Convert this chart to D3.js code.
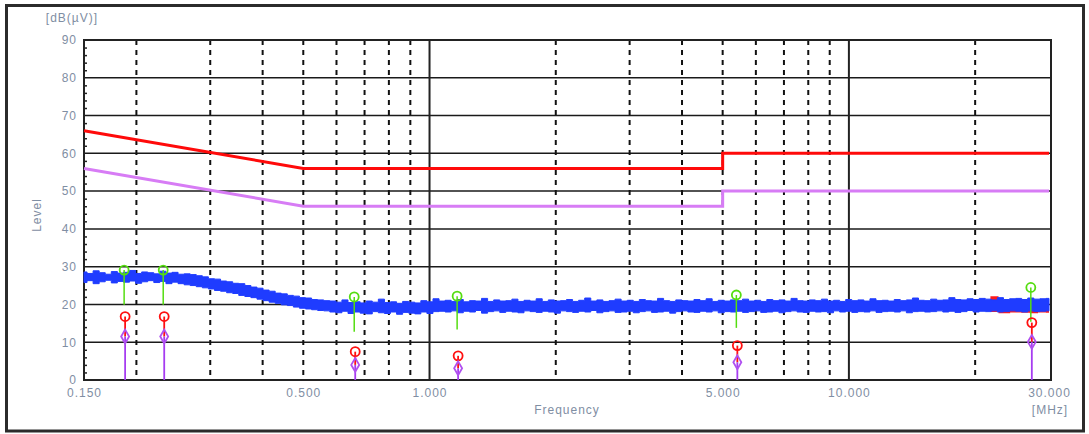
<!DOCTYPE html>
<html>
<head>
<meta charset="utf-8">
<script src="https://cdn.jsdelivr.net/npm/d3@7"></script>
<style>
  body { margin: 0; background: #fff; }
  .tick text, .lbl { font-family: "Liberation Sans", Arial, sans-serif; font-size: 12px; fill: #7f8ea3; letter-spacing: 1px; }
</style>
</head>
<body>
<div id="graph"></div>
<script>
// Axis ticks
var yTicks = [0, 10, 20, 30, 40, 50, 60, 70, 80, 90];
var xTicks = [0.15, 0.5, 1, 5, 10, 30];
var xTickLabels = ["0.150", "0.500", "1.000", "5.000", "10.000", "30.000"];
var gridSolid = [1, 10];
var gridDashed = [0.2, 0.3, 0.4, 0.5, 0.6, 0.7, 0.8, 0.9, 2, 3, 4, 5, 6, 7, 8, 9, 20];

// Limit lines (QP red, AV violet)
var limitFreq = [0.15, 0.5, 5, 5, 30];
var limitQP = [66, 56, 56, 60, 60];
var limitAV = [56, 46, 46, 50, 50];

// Measured trace, max / min per sweep point (0.15 - 30 MHz)
var traceMax = [
  28.6, 28.2, 28.9, 28.4, 28.0, 28.7, 28.3, 28.5, 29.0, 28.2,
  28.6, 28.4, 28.1, 28.8, 28.3, 28.5, 28.0, 28.1, 27.9, 27.6,
  27.3, 26.8, 26.7, 26.2, 26.0, 25.6, 25.5, 25.0, 24.6, 24.3,
  23.8, 23.5, 23.0, 22.8, 22.4, 22.2, 21.8, 21.7, 21.3, 21.2,
  21.0, 20.9, 20.6, 21.2, 20.5, 20.7, 20.4, 20.9, 20.6, 21.4,
  20.5, 20.7, 20.3, 20.8, 20.6, 20.4, 21.0, 20.7, 21.5, 20.9,
  21.1, 20.8, 21.3, 20.7, 21.0, 20.9, 21.6, 20.8, 21.2, 20.9,
  21.0, 21.4, 20.8, 21.1, 20.9, 21.5, 20.8, 21.2, 20.9, 21.0,
  21.3, 20.8, 21.1, 21.7, 20.9, 21.2, 20.8, 21.0, 21.4, 20.9,
  21.1, 20.8, 21.3, 21.0, 20.9, 21.6, 21.0, 20.8, 21.2, 21.0,
  20.9, 21.3, 21.0, 21.5, 20.8, 21.1, 20.9, 21.2, 21.0, 21.4,
  20.9, 21.1, 20.8, 21.3, 21.0, 21.2, 20.9, 21.6, 21.0, 20.9,
  21.2, 21.0, 21.4, 20.9, 21.1, 20.8, 21.3, 21.0, 21.2, 20.9,
  21.5, 21.0, 21.1, 20.9, 21.3, 21.0, 21.2, 21.7, 21.1, 21.0,
  21.4, 21.1, 21.2, 21.8, 21.3, 21.2, 21.5, 21.3, 21.6, 21.4,
  21.2, 21.8, 21.3, 21.5, 21.6, 21.3, 21.7, 21.4, 21.5, 21.6
];
var traceMin = [
  25.8, 26.3, 25.5, 26.0, 26.4, 25.7, 26.1, 25.9, 26.2, 25.6,
  26.0, 26.3, 25.8, 26.1, 25.5, 25.9, 25.5, 25.2, 25.0, 24.7,
  24.4, 24.1, 23.7, 23.5, 23.1, 22.9, 22.4, 22.1, 21.8, 21.4,
  21.0, 20.6, 20.3, 19.9, 19.7, 19.3, 19.0, 18.8, 18.6, 18.4,
  18.3, 18.0, 17.8, 18.2, 17.6, 18.0, 17.7, 17.5, 18.1, 17.8,
  17.6, 18.0, 17.4, 17.9, 17.7, 17.5, 18.0, 17.6, 18.1, 18.2,
  18.0, 18.3, 17.8, 18.2, 18.0, 18.4, 17.7, 18.1, 18.3, 17.9,
  18.2, 18.0, 17.8, 18.3, 18.1, 17.9, 18.2, 18.0, 17.7, 18.3,
  18.1, 17.9, 18.2, 18.0, 18.4, 17.8, 18.1, 18.3, 17.9, 18.0,
  18.2, 17.8, 18.1, 18.3, 17.9, 18.0, 18.2, 17.7, 18.1, 18.3,
  18.0, 17.9, 18.2, 18.0, 18.3, 17.8, 18.1, 18.0, 18.2, 17.9,
  18.1, 18.3, 17.9, 18.0, 18.2, 17.8, 18.1, 18.3, 18.0, 17.9,
  18.2, 18.0, 18.1, 17.8, 18.3, 18.0, 18.2, 17.9, 18.1, 18.0,
  18.3, 17.9, 18.1, 18.2, 18.0, 18.3, 17.8, 18.1, 18.2, 18.0,
  18.1, 18.3, 18.0, 18.2, 17.9, 18.1, 18.4, 18.0, 18.2, 18.1,
  18.3, 18.0, 18.1, 18.3, 18.2, 18.0, 18.3, 18.1, 18.2, 18.3
];

// Second (red) trace, only visible at the top end
var redFreq = [21.5, 22, 23.5, 25, 26.5, 27.5, 29, 30];
var redMax = [21.0, 22.2, 21.2, 21.1, 21.3, 21.2, 21.1, 21.3];
var redMin = [18.4, 18.0, 17.7, 17.9, 17.8, 17.7, 17.9, 17.8];

// Final measurement markers
var markFreq = [0.188, 0.233, 0.665, 1.17, 5.42, 27.3];
var markPeak = [29.1, 29.1, 22.0, 22.2, 22.5, 24.5];
var markPeakLow = [19.9, 19.9, 12.8, 13.4, 13.8, 15.4];
var markQP = [16.8, 16.8, 7.5, 6.4, 9.1, 15.2];
var markAV = [11.5, 11.5, 4.0, 3.1, 4.7, 10.1];

var largeur = 1089, hauteur = 434;
var plot = {gauche: 84, droit: 1049, haut: 40, bas: 380};

var x = d3.scaleLog().domain([0.15, 30]).range([plot.gauche, plot.droit]);
var y = d3.scaleLinear().domain([0, 90]).range([plot.bas, plot.haut]);

var svg = d3.select("#graph").append("svg")
    .attr("width", largeur)
    .attr("height", hauteur);

// outer frame
svg.append("rect")
    .attr("x", 6.5).attr("y", 5.5)
    .attr("width", 1077).attr("height", 425.5)
    .attr("fill", "none")
    .attr("stroke", "#2b2b2b")
    .attr("stroke-width", 3);

// horizontal grid
svg.selectAll(".hgrid")
  .data(yTicks.slice(1, -1))
  .enter().append("line")
    .attr("x1", plot.gauche).attr("x2", plot.droit + 2)
    .attr("y1", function(d) { return y(d); })
    .attr("y2", function(d) { return y(d); })
    .attr("stroke", "#1a1a1a")
    .attr("stroke-width", 1.5);

// vertical grid
svg.selectAll(".vdash")
  .data(gridDashed)
  .enter().append("line")
    .attr("x1", function(d) { return x(d); })
    .attr("x2", function(d) { return x(d); })
    .attr("y1", plot.haut).attr("y2", plot.bas)
    .attr("stroke", "#111")
    .attr("stroke-width", 2)
    .attr("stroke-dasharray", "5,5");

svg.selectAll(".vsolid")
  .data(gridSolid)
  .enter().append("line")
    .attr("x1", function(d) { return x(d); })
    .attr("x2", function(d) { return x(d); })
    .attr("y1", plot.haut).attr("y2", plot.bas)
    .attr("stroke", "#222")
    .attr("stroke-width", 2);

// minor ticks on the left side, every 2 dB
var minorTicks = d3.range(0, 91, 2).filter(function(d) { return d % 10 != 0; });
svg.append("g")
    .attr("transform", "translate(" + plot.gauche + ",0)")
  .call(d3.axisRight(y).tickValues(minorTicks).tickSize(3).tickFormat(""))
  .call(function(g) { g.select(".domain").remove(); })
  .selectAll("line").attr("stroke", "#222").attr("stroke-width", 1.5);

// plot border
svg.append("rect")
    .attr("x", plot.gauche).attr("y", plot.haut)
    .attr("width", plot.droit + 2 - plot.gauche).attr("height", plot.bas - plot.haut)
    .attr("fill", "none")
    .attr("stroke", "#222")
    .attr("stroke-width", 2);

// axes labels
svg.append("g")
    .attr("transform", "translate(" + plot.gauche + ",0)")
  .call(d3.axisLeft(y).tickValues(yTicks).tickSize(0).tickPadding(7))
  .call(function(g) { g.select(".domain").remove(); });

svg.append("g")
    .attr("transform", "translate(0," + plot.bas + ")")
  .call(d3.axisBottom(x).tickValues(xTicks).tickSize(0).tickPadding(8)
        .tickFormat(function(d, i) { return xTickLabels[i]; }))
  .call(function(g) { g.select(".domain").remove(); });

svg.selectAll(".tick text").attr("font-family", null).attr("font-size", null);

svg.append("text").attr("class", "lbl")
    .attr("x", 72).attr("y", 22)
    .style("text-anchor", "middle")
    .text("[dB(µV)]");

svg.append("text").attr("class", "lbl")
    .attr("transform", "translate(41,215) rotate(-90)")
    .style("text-anchor", "middle")
    .text("Level");

svg.append("text").attr("class", "lbl")
    .attr("x", 567).attr("y", 414)
    .style("text-anchor", "middle")
    .text("Frequency");

svg.append("text").attr("class", "lbl")
    .attr("x", 1050).attr("y", 414)
    .style("text-anchor", "middle")
    .text("[MHz]");

// limit lines
var limLine = function(vals) {
  return d3.line()
    .x(function(d, i) { return x(limitFreq[i]); })
    .y(function(d) { return y(d); })(vals);
};
svg.append("path").attr("d", limLine(limitAV))
    .attr("fill", "none").attr("stroke", "#d77cf5").attr("stroke-width", 3);
svg.append("path").attr("d", limLine(limitQP))
    .attr("fill", "none").attr("stroke", "#ff0a0a").attr("stroke-width", 3);

// traces
var n = traceMax.length;
var sweep = traceMax.map(function(d, i) { return 0.15 * Math.pow(200, i / (n - 1)); });

svg.append("path")
    .datum(redFreq)
    .attr("fill", "#ff1a1a")
    .attr("d", d3.area().curve(d3.curveStep)
      .x(function(d) { return x(d); })
      .y0(function(d, i) { return y(redMin[i]); })
      .y1(function(d, i) { return y(redMax[i]); }));

svg.append("path")
    .datum(sweep)
    .attr("fill", "#1f3cff")
    .attr("stroke", "#1f3cff")
    .attr("stroke-width", 1)
    .attr("d", d3.area().curve(d3.curveStep)
      .x(function(d) { return x(d); })
      .y0(function(d, i) { return y(traceMin[i]); })
      .y1(function(d, i) { return y(traceMax[i]); }));

// markers
markFreq.forEach(function(f, i) {
  var cx = x(f);
  svg.append("line")
      .attr("x1", cx - 1).attr("x2", cx - 1)
      .attr("y1", y(markPeak[i])).attr("y2", y(markPeakLow[i]))
      .attr("stroke", "#55dd10").attr("stroke-width", 1.5);
  svg.append("line")
      .attr("x1", cx).attr("x2", cx)
      .attr("y1", y(markQP[i])).attr("y2", y(markAV[i]))
      .attr("stroke", "#ff1010").attr("stroke-width", 1.8);
  svg.append("line")
      .attr("x1", cx).attr("x2", cx)
      .attr("y1", y(markAV[i])).attr("y2", y(0))
      .attr("stroke", "#a63cf0").attr("stroke-width", 1.8);
  svg.append("circle")
      .attr("cx", cx - 1).attr("cy", y(markPeak[i])).attr("r", 4.5)
      .attr("fill", "none").attr("stroke", "#55dd10").attr("stroke-width", 1.8);
  svg.append("circle")
      .attr("cx", cx).attr("cy", y(markQP[i])).attr("r", 4.5)
      .attr("fill", "none").attr("stroke", "#ff1010").attr("stroke-width", 1.8);
  svg.append("path")
      .attr("transform", "translate(" + cx + "," + y(markAV[i]) + ")")
      .attr("d", d3.symbol().type(d3.symbolDiamond).size(55)())
      .attr("fill", "none").attr("stroke", "#b050f0").attr("stroke-width", 1.8);
});
</script>
</body>
</html>
